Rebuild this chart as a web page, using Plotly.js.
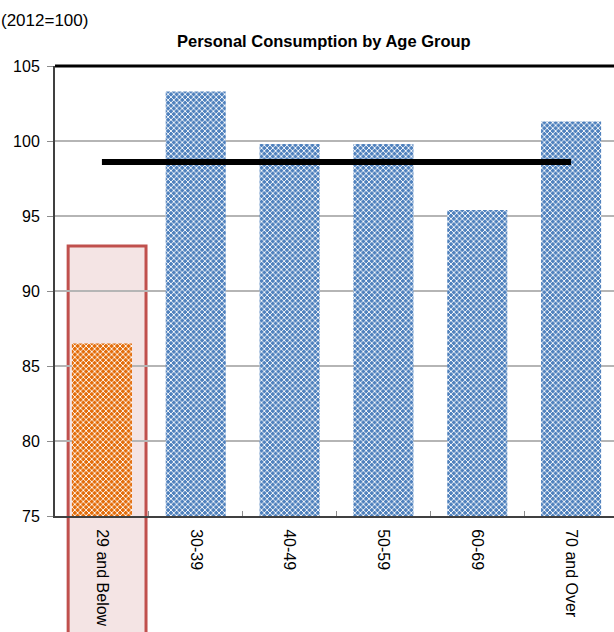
<!DOCTYPE html>
<html>
<head>
<meta charset="utf-8">
<script src="https://cdn.plot.ly/plotly-3.0.1.min.js"></script>
<style>
html, body { margin: 0; padding: 0; overflow: hidden; background: #fff; }
#chart { width: 624px; height: 632px; }
</style>
</head>
<body>
<div id="chart"></div>
<script>
const categories = ["29 and Below", "30-39", "40-49", "50-59", "60-69", "70 and Over"];
const consumption = [86.5, 103.3, 99.8, 99.8, 95.4, 101.3];
const averageLine = [98.6, 98.6, 98.6, 98.6, 98.6, 98.6];
const highlightIndex = 0;
const highlightColor = "#e36c09";
const normalColor = "#4f81bd";
const yTicks = [75, 80, 85, 90, 95, 100, 105];
const highlightTop = 93.0;
const yMin = 75, yMax = 105;

function barTrace(indices, color) {
  return {
    type: "bar",
    x: indices.map(i => categories[i]),
    y: indices.map(i => consumption[i] - yMin),
    base: yMin,
    width: 0.64,
    marker: {
      color: color,
      line: { width: 0 },
      pattern: { shape: "x", fgcolor: "#ffffff", bgcolor: color, fgopacity: 1, size: 4, solidity: 0.4, fillmode: "overlay" }
    },
    hoverinfo: "x+y",
    showlegend: false
  };
}
const allIdx = categories.map((_, i) => i);
const highlightBars = barTrace(allIdx.filter(i => i === highlightIndex), highlightColor);
const normalBars = barTrace(allIdx.filter(i => i !== highlightIndex), normalColor);

const line = {
  type: "scatter",
  mode: "lines",
  x: categories,
  y: averageLine,
  line: { color: "#000000", width: 6 },
  showlegend: false
};

const layout = {
  width: 624,
  height: 632,
  margin: { l: 55, r: 6, t: 66, b: 116 },
  paper_bgcolor: "#ffffff",
  plot_bgcolor: "rgba(0,0,0,0)",
  barmode: "overlay",
  font: { family: "Liberation Sans, Arial, sans-serif", size: 16, color: "#000" },
  xaxis: {
    type: "category",
    categoryorder: "array",
    categoryarray: categories,
    range: [-0.5, 5.5],
    tickson: "boundaries",
    ticks: "inside",
    ticklen: 5,
    tickcolor: "#8c8c8c",
    tickangle: 90,
    ticklabelstandoff: 8,
    showline: true,
    linecolor: "#404040",
    linewidth: 2,
    showgrid: false,
    tickfont: { size: 16, color: "#000" },
    fixedrange: true
  },
  yaxis: {
    range: [yMin, yMax],
    tickvals: yTicks,
    ticks: "outside",
    ticklen: 6,
    tickcolor: "#8c8c8c",
    showline: true,
    linecolor: "#404040",
    linewidth: 2,
    showgrid: true,
    gridcolor: "#b5b5b5",
    gridwidth: 1.5,
    zeroline: false,
    ticklabelstandoff: 4,
    tickfont: { size: 16, color: "#000" },
    fixedrange: true
  },
  shapes: [
    {
      type: "rect", layer: "below",
      xref: "x", yref: "paper",
      x0: -0.36, x1: 0.47,
      y0: -0.4, y1: (highlightTop - yMin) / (yMax - yMin),
      fillcolor: "#f4e4e4",
      line: { color: "#c0504d", width: 3 }
    },
    {
      type: "line", layer: "above",
      xref: "paper", yref: "paper",
      x0: 0, x1: 1, y0: 1, y1: 1,
      line: { color: "#000000", width: 3 }
    }
  ],
  annotations: [
    {
      text: "(2012=100)", xref: "paper", yref: "paper",
      x: -0.1, y: 1.102, xanchor: "left", yanchor: "middle",
      showarrow: false, font: { size: 17, color: "#000" }
    },
    {
      text: "<b>Personal Consumption by Age Group</b>", xref: "paper", yref: "paper",
      x: 0.477, y: 1.055, xanchor: "center", yanchor: "middle",
      showarrow: false, font: { size: 16.5, color: "#000" }
    }
  ]
};

Plotly.newPlot("chart", [highlightBars, normalBars, line], layout, { displayModeBar: false, staticPlot: true });
</script>
</body>
</html>
